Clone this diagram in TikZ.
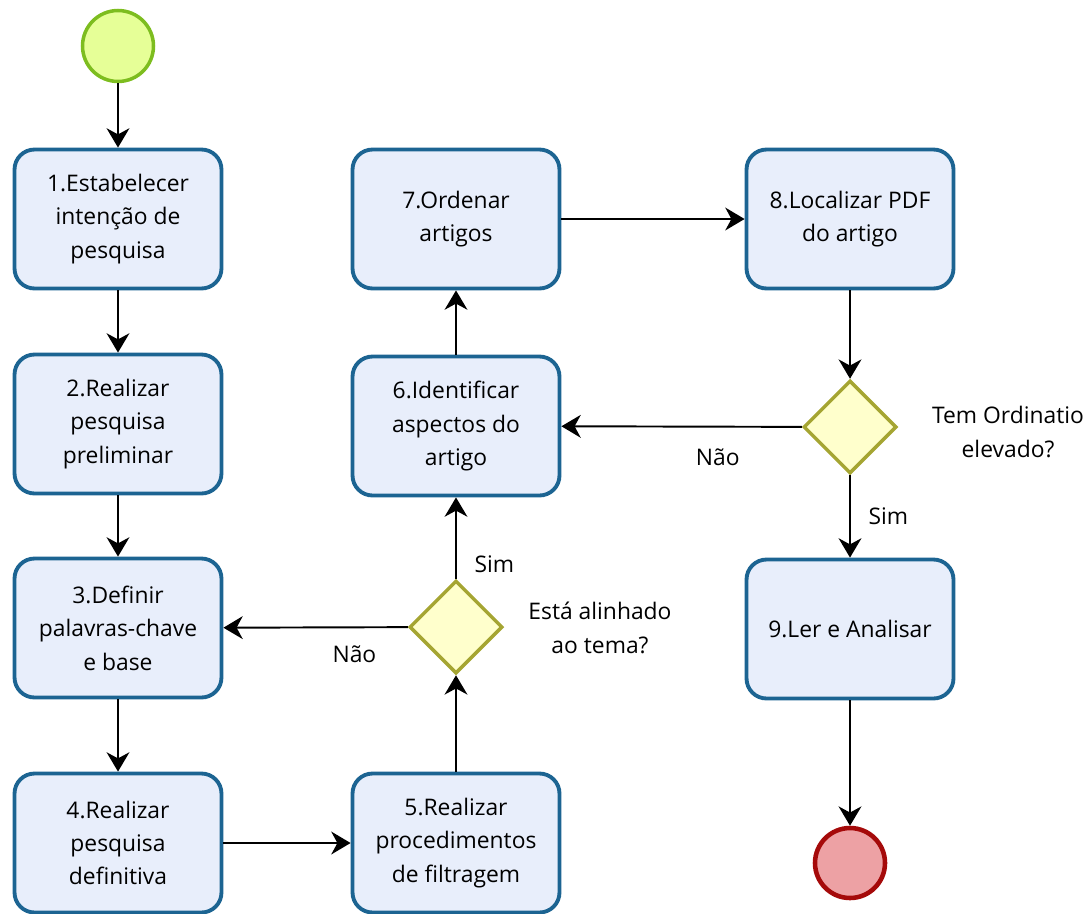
\documentclass[tikz,border=0pt]{standalone}
\usepackage{fontspec}
\setmainfont{Open Sans}
\usepackage{xcolor}
\usetikzlibrary{arrows.meta,shapes.geometric}

\definecolor{taskfill}{HTML}{E8EEFB}
\definecolor{taskline}{HTML}{1C6492}
\definecolor{gatefill}{HTML}{FFFFCC}
\definecolor{gateline}{HTML}{A5A532}
\definecolor{startfill}{HTML}{E6FF97}
\definecolor{startline}{HTML}{7DBD1F}
\definecolor{endfill}{HTML}{EDA1A4}
\definecolor{endline}{HTML}{A50A0A}

\begin{document}
\begin{tikzpicture}[
        x=0.02cm, y=-0.02cm,
        font=\fontsize{13}{19}\selectfont,
        box/.style={draw=taskline, fill=taskfill, line width=2.2pt, rounded corners=0.4cm, align=center, minimum width=4.14cm, minimum height=2.78cm, inner sep=2pt},
        gate/.style={draw=gateline, fill=gatefill, line width=2pt, diamond, aspect=1, minimum size=1.86cm, inner sep=0pt},
        startev/.style={draw=startline, fill=startfill, line width=2pt, circle, minimum size=1.42cm, inner sep=0pt},
        endev/.style={draw=endline, fill=endfill, line width=2.6pt, circle, minimum size=1.4cm, inner sep=0pt},
        lbl/.style={align=center, inner sep=0pt},
        arr/.style={-{Stealth[length=11pt, width=13pt, inset=3.5pt]}, line width=1.1pt}
    ]
        \useasboundingbox (0,0) rectangle (1091,913);
        % events
        \node[startev] (start) at (118,46) {};
        \node[endev] (stop) at (850,863) {};
        % tasks
        \node[box] (est) at (118,219) {1.Estabelecer\\intenção de\\pesquisa};
        \node[box] (pre) at (118,424) {2.Realizar\\pesquisa\\preliminar};
        \node[box] (pal) at (118,628) {3.Definir\\palavras-chave\\e base};
        \node[box] (def) at (118,843) {4.Realizar\\pesquisa\\definitiva};
        \node[box] (fil) at (456,843) {5.Realizar\\procedimentos\\de filtragem};
        \node[box] (asp) at (456,426) {6.Identificar\\aspectos do\\artigo};
        \node[box] (ord) at (456,219) {7.Ordenar\\artigos};
        \node[box] (pdf) at (850,219) {8.Localizar PDF\\do artigo};
        \node[box] (ler) at (850,629) {9.Ler e Analisar};
        % gateways
        \node[gate] (tema) at (456,627) {};
        \node[gate] (ordi) at (850,427) {};
        \node[lbl] (temaq) at (600,628) {Está alinhado\\ao tema?};
        \node[lbl] (ordiq) at (1008,432) {Tem Ordinatio\\elevado?};
        % flow
        \draw[arr] (start) -- (est);
        \draw[arr] (est) -- (pre);
        \draw[arr] (pre) -- (pal);
        \draw[arr] (pal) -- (def);
        \draw[arr] (def) -- (fil);
        \draw[arr] (fil) -- (tema);
        \draw[arr] (tema) -- (asp) node[lbl, pos=0.18, right=10pt] (sim1) {Sim};
        \draw[arr] (tema) -- (pal) node[lbl, pos=0.29, below=10pt] (nao1) {Não};
        \draw[arr] (asp) -- (ord);
        \draw[arr] (ord) -- (pdf);
        \draw[arr] (pdf) -- (ordi);
        \draw[arr] (ordi) -- (asp) node[lbl, pos=0.35, below=12pt] (nao2) {Não};
        \draw[arr] (ordi) -- (ler) node[lbl, pos=0.5, right=10pt] (sim2) {Sim};
        \draw[arr] (ler) -- (stop);
    \end{tikzpicture}
\end{document}
